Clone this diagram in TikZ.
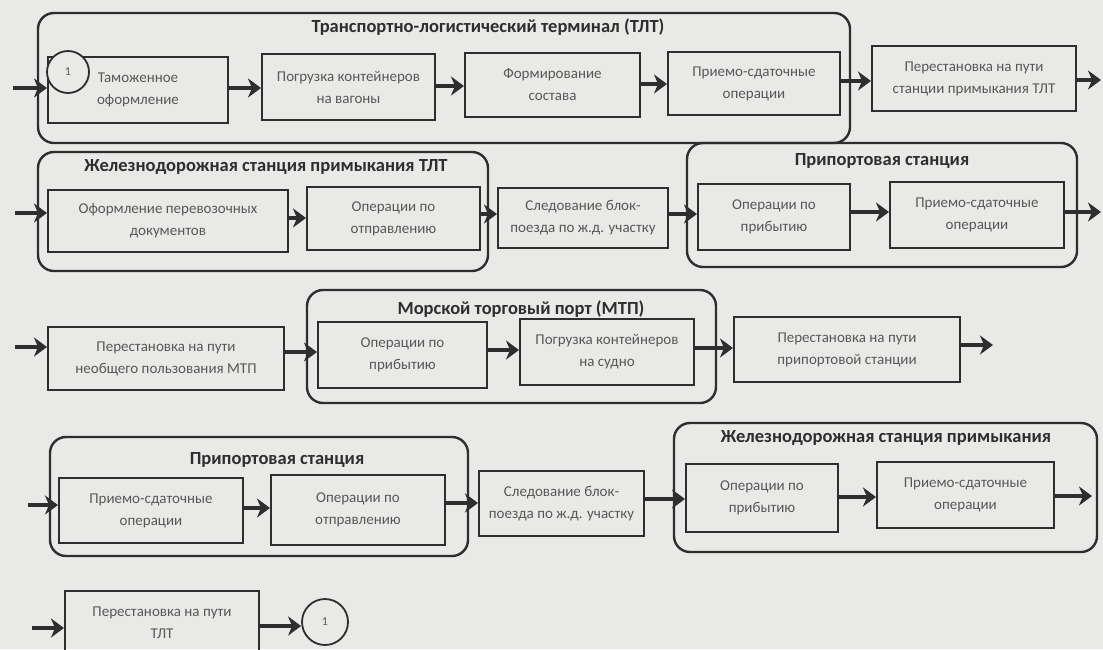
\documentclass[tikz,border=0pt]{standalone}
\usepackage{fontspec}
\setmainfont{Carlito}
\usetikzlibrary{arrows.meta}

\definecolor{paper}{HTML}{E9E9E7}
\definecolor{ink}{HTML}{2E2E2E}
\definecolor{softink}{HTML}{585858}

\begin{document}
\begin{tikzpicture}[x=1pt,y=-1pt,
		stage/.style={draw=ink, line width=2pt, text=softink, align=center, font=\fontsize{15}{22}\selectfont, inner sep=2pt},
		zone/.style={draw=ink, line width=2.4pt, rounded corners=16pt},
		zonetitle/.style={text=ink, font=\bfseries\fontsize{18.5}{20}\selectfont},
		flow/.style={draw=ink, line width=3.4pt, -{Stealth[length=13pt,width=19pt,inset=4pt]}},
		link/.style={draw=ink, line width=1.8pt, fill=paper, circle, inner sep=0pt, text=softink, font=\fontsize{12}{12}\selectfont}]
		\fill[paper] (0,0) rectangle (1103,649);
		\useasboundingbox (0,0) rectangle (1103,649);
		% row 1
		\draw[zone] (38,13) rectangle (850,143);
		\node[zonetitle] (tltname) at (488,27) {Транспортно-логистический терминал (ТЛТ)};
		\node[stage, minimum width=180pt, minimum height=66pt] (tamozh) at (138,90) {Таможенное\\оформление};
		\node[stage, minimum width=173pt, minimum height=66pt] (pogruzka) at (348.5,87) {Погрузка контейнеров\\на вагоны};
		\node[stage, minimum width=175pt, minimum height=64pt] (formir) at (552.5,85) {Формирование\\состава};
		\node[stage, minimum width=172pt, minimum height=63pt] (priem) at (754,83.5) {Приемо-сдаточные\\операции};
		\node[stage, minimum width=204pt, minimum height=65pt] (perest) at (974,78.5) {Перестановка на пути\\станции примыкания ТЛТ};
		\node[link, minimum size=42pt] (linkA) at (68,72) {1};
		\coordinate (inA) at (13,88);
		\coordinate (outA) at (1101,80);
		\draw[flow] (inA) -- (inA -| tamozh.west);
		\draw[flow] (tamozh.east) ++(0,-2) -- (pogruzka.west |- 0,88);
		\draw[flow] (pogruzka.east |- 0,86) -- (formir.west |- 0,86);
		\draw[flow] (formir.east |- 0,84) -- (priem.west |- 0,84);
		\draw[flow] (priem.east |- 0,81) -- (perest.west |- 0,81);
		\draw[flow] (perest.east |- outA) -- (outA);
		% row 2
		\draw[zone] (38,152) rectangle (488,271);
		\node[zonetitle] (stname) at (266,167) {Железнодорожная станция примыкания ТЛТ};
		\node[stage, minimum width=240pt, minimum height=62pt] (oform) at (168,221) {Оформление перевозочных\\документов};
		\node[stage, minimum width=173pt, minimum height=63pt] (otpr) at (393.5,218.5) {Операции по\\отправлению};
		\node[stage, minimum width=170pt, minimum height=60pt] (sled) at (583,218) {Следование блок-\\поезда по ж.д. участку};
		\draw[zone] (687,143) rectangle (1077,267);
		\node[zonetitle] (prname) at (882,161) {Припортовая станция};
		\node[stage, minimum width=152pt, minimum height=66pt] (pribyt) at (774,217) {Операции по\\прибытию};
		\node[stage, minimum width=174pt, minimum height=66pt] (priemB) at (977,215) {Приемо-сдаточные\\операции};
		\coordinate (inB) at (15,213);
		\coordinate (outB) at (1101,212);
		\draw[flow] (inB) -- (inB -| oform.west);
		\draw[flow] (oform.east |- 0,218) -- (otpr.west |- 0,218);
		\draw[flow] (otpr.east |- 0,214) -- (sled.west |- 0,214);
		\draw[flow] (sled.east |- 0,214) -- (pribyt.west |- 0,214);
		\draw[flow] (pribyt.east |- 0,212) -- (priemB.west |- 0,212);
		\draw[flow] (priemB.east |- outB) -- (outB);
		% row 3
		\node[stage, minimum width=236pt, minimum height=63pt] (perestC) at (166,358.5) {Перестановка на пути\\необщего пользования МТП};
		\draw[zone] (307,290) rectangle (716,403);
		\node[zonetitle] (mtpname) at (521,309) {Морской торговый порт (МТП)};
		\node[stage, minimum width=169pt, minimum height=66pt] (pribytC) at (402.5,355) {Операции по\\прибытию};
		\node[stage, minimum width=174pt, minimum height=66pt] (pogruzkaC) at (607,352) {Погрузка контейнеров\\на судно};
		\node[stage, minimum width=226pt, minimum height=65pt] (perestD) at (847,349.5) {Перестановка на пути\\припортовой  станции};
		\coordinate (inC) at (15,347);
		\coordinate (outC) at (993,345);
		\draw[flow] (inC) -- (inC -| perestC.west);
		\draw[flow] (perestC.east |- 0,352) -- (pribytC.west |- 0,352);
		\draw[flow] (pribytC.east |- 0,350) -- (pogruzkaC.west |- 0,350);
		\draw[flow] (pogruzkaC.east |- 0,348) -- (perestD.west |- 0,348);
		\draw[flow] (perestD.east |- outC) -- (outC);
		% row 4
		\draw[zone] (50,437) rectangle (468,556);
		\node[zonetitle] (prnameD) at (277,460) {Припортовая станция};
		\node[stage, minimum width=184pt, minimum height=65pt] (priemD) at (151,510.5) {Приемо-сдаточные\\операции};
		\node[stage, minimum width=174pt, minimum height=70pt] (otprD) at (358,509.5) {Операции по\\отправлению};
		\node[stage, minimum width=165pt, minimum height=65pt] (sledD) at (561.5,503.5) {Следование блок-\\поезда по ж.д. участку};
		\draw[zone] (674,423) rectangle (1097,552);
		\node[zonetitle] (stnameD) at (886,438) {Железнодорожная станция примыкания};
		\node[stage, minimum width=152pt, minimum height=68pt] (pribytD) at (762,498) {Операции по\\прибытию};
		\node[stage, minimum width=177pt, minimum height=66pt] (priemE) at (965.5,495) {Приемо-сдаточные\\операции};
		\coordinate (inD) at (28,505);
		\coordinate (outD) at (1092,496);
		\draw[flow] (inD) -- (inD -| priemD.west);
		\draw[flow] (priemD.east |- 0,508) -- (otprD.west |- 0,508);
		\draw[flow] (otprD.east |- 0,503) -- (sledD.west |- 0,503);
		\draw[flow] (sledD.east |- 0,499) -- (pribytD.west |- 0,499);
		\draw[flow] (pribytD.east |- 0,497) -- (priemE.west |- 0,497);
		\draw[flow] (priemE.east |- outD) -- (outD);
		% row 5
		\node[stage, minimum width=194pt, minimum height=64pt] (perestE) at (162,623) {Перестановка на пути\\ТЛТ};
		\node[link, minimum size=46pt] (linkB) at (325,622) {1};
		\coordinate (inE) at (32,628);
		\draw[flow] (inE) -- (inE -| perestE.west);
		\draw[flow] (perestE.east |- 0,626) -- (linkB.west |- 0,626);
	\end{tikzpicture}
\end{document}
